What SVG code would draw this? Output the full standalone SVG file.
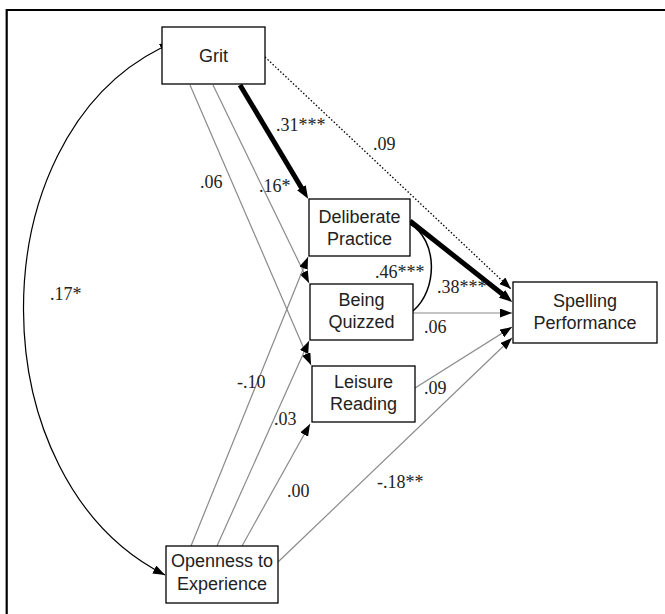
<svg xmlns="http://www.w3.org/2000/svg" width="665" height="614" viewBox="0 0 665 614">
<defs>
<marker id="ah" markerUnits="userSpaceOnUse" markerWidth="13" markerHeight="10" refX="12" refY="4.5" orient="auto">
<path d="M0,0 L12,4.5 L0,9 z" fill="#000"/>
</marker>
<marker id="ahs" markerUnits="userSpaceOnUse" markerWidth="13" markerHeight="10" refX="0" refY="4.5" orient="auto-start-reverse">
<path d="M0,0 L12,4.5 L0,9 z" fill="#000"/>
</marker>
<marker id="aht" markerUnits="userSpaceOnUse" markerWidth="14" markerHeight="11" refX="5" refY="5" orient="auto">
<path d="M0,0 L13,5 L0,10 z" fill="#000"/>
</marker>
</defs>
<style>
.box{fill:#fff;stroke:#000;stroke-width:1.3}
.nt{font-family:"Liberation Sans",Arial,sans-serif;font-size:18px;fill:#222;text-anchor:middle}
.thin{stroke:#8a8a8a;stroke-width:1.2;fill:none;marker-end:url(#ah)}
.thick{stroke:#000;stroke-width:5;fill:none;marker-end:url(#aht)}
.lb{font-family:"Liberation Serif","Times New Roman",serif;font-size:18px;fill:#222}
</style>
<rect width="665" height="614" fill="#fff"/>
<path d="M6.7,614 L6.7,10 L665,10" fill="none" stroke="#000" stroke-width="2.2"/>
<g id="connectors">
<line class="thin" x1="190" y1="85" x2="311" y2="365"/>
<line class="thin" x1="213" y1="85" x2="309" y2="283"/>
<line class="thick" x1="240" y1="85" x2="304" y2="192"/>
<line x1="265" y1="57" x2="511" y2="289" stroke="#000" stroke-width="1.3" stroke-dasharray="1.5,2" marker-end="url(#ah)"/>
<line class="thick" x1="410" y1="221" x2="506" y2="297"/>
<line class="thin" x1="413" y1="313" x2="512" y2="313"/>
<line class="thin" x1="415" y1="388" x2="512" y2="327"/>
<line class="thin" x1="278" y1="562" x2="512" y2="338"/>
<line class="thin" x1="191" y1="546" x2="308" y2="257"/>
<line class="thin" x1="217" y1="546" x2="309" y2="341"/>
<line class="thin" x1="242" y1="546" x2="310" y2="424"/>
<path d="M410,224 C438,240 438,290 413,311" fill="none" stroke="#000" stroke-width="1.5"/>
<path d="M161,48 C-23,140 -23,480 165,575" fill="none" stroke="#000" stroke-width="1.2" marker-start="url(#ahs)" marker-end="url(#ah)"/>
</g>
<g id="labels">
<text class="lb" x="276" y="131">.31***</text>
<text class="lb" x="373" y="150">.09</text>
<text class="lb" x="200" y="188">.06</text>
<text class="lb" x="259" y="192">.16*</text>
<text class="lb" x="375" y="278">.46***</text>
<text class="lb" x="437" y="293">.38***</text>
<text class="lb" x="424" y="333">.06</text>
<text class="lb" x="424" y="394">.09</text>
<text class="lb" x="237" y="388">-.10</text>
<text class="lb" x="274" y="425">.03</text>
<text class="lb" x="287" y="497">.00</text>
<text class="lb" x="377" y="488">-.18**</text>
<text class="lb" x="50" y="300">.17*</text>
</g>
<g id="grit">
<rect class="box" x="162" y="27" width="103" height="57"/>
<text class="nt" x="213.5" y="62">Grit</text>
</g>
<g id="deliberate-practice">
<rect class="box" x="309" y="199" width="101" height="57"/>
<text class="nt" x="359.5" y="223">Deliberate</text>
<text class="nt" x="359.5" y="245">Practice</text>
</g>
<g id="being-quizzed">
<rect class="box" x="310" y="284" width="103" height="56"/>
<text class="nt" x="361.5" y="306">Being</text>
<text class="nt" x="361.5" y="328">Quizzed</text>
</g>
<g id="leisure-reading">
<rect class="box" x="312" y="366" width="103" height="56"/>
<text class="nt" x="363.5" y="388">Leisure</text>
<text class="nt" x="363.5" y="410">Reading</text>
</g>
<g id="spelling-performance">
<rect class="box" x="513" y="282" width="144" height="61"/>
<text class="nt" x="585" y="307">Spelling</text>
<text class="nt" x="585" y="329">Performance</text>
</g>
<g id="openness">
<rect class="box" x="166" y="546" width="112" height="57"/>
<text class="nt" x="222" y="567">Openness to</text>
<text class="nt" x="222" y="590">Experience</text>
</g>
</svg>
